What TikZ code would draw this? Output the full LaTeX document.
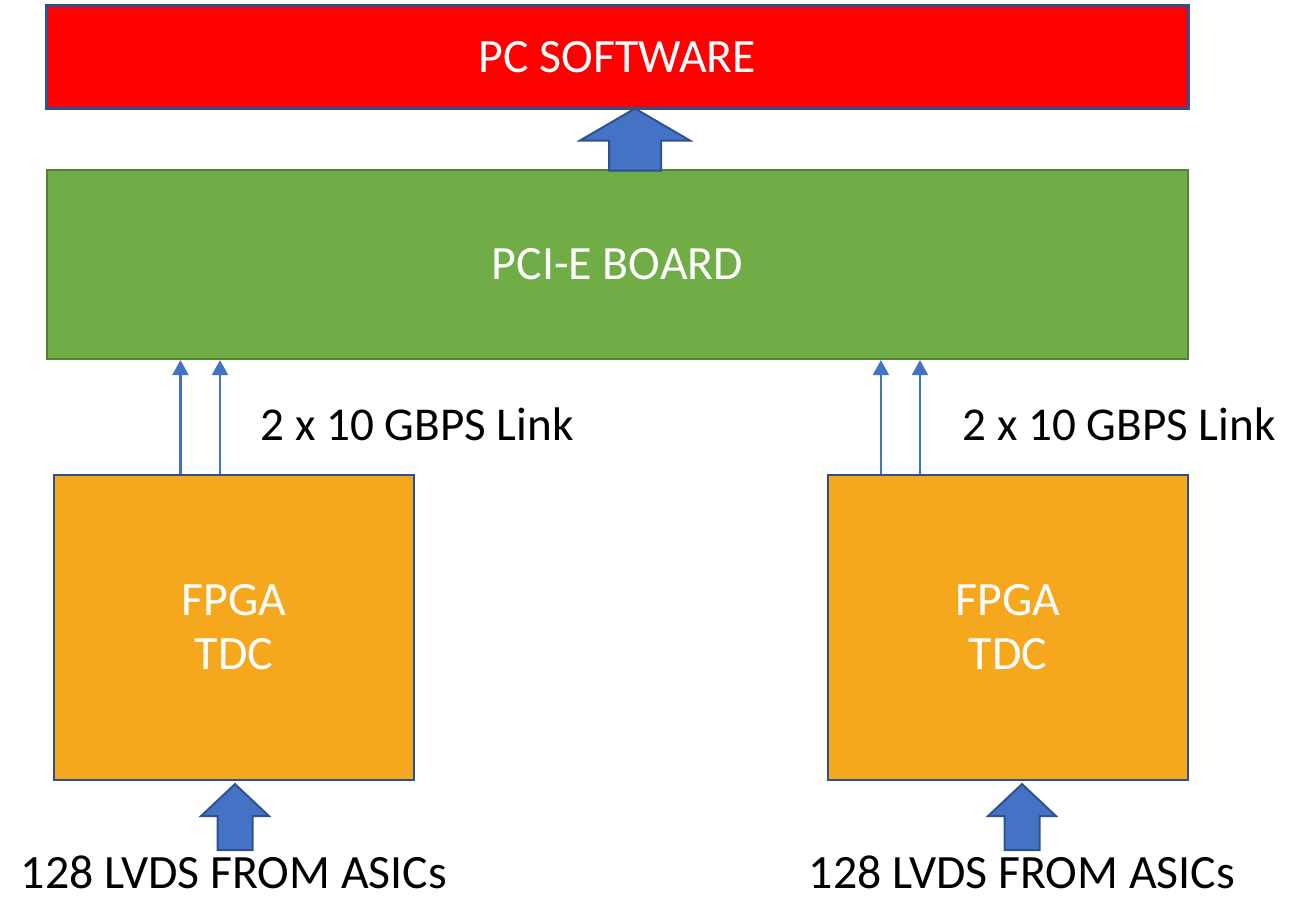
\documentclass[tikz,border=0pt]{standalone}
\usepackage{fontspec}
\setmainfont{Carlito}
\usepackage{tikz}
\usetikzlibrary{positioning,calc,arrows.meta}

\definecolor{pcred}{HTML}{FF0000}
\definecolor{boardgreen}{HTML}{70AD47}
\definecolor{boardline}{HTML}{548235}
\definecolor{fpgaorange}{HTML}{F5A81E}
\definecolor{linkblue}{HTML}{4472C4}
\definecolor{edgeblue}{HTML}{2F528F}

\begin{document}
\begin{tikzpicture}[x=0.01cm, y=-0.01cm]
        \tikzstyle{every node}=[font=\fontsize{13.6}{15.4}\selectfont, inner sep=0pt]
        \tikzstyle{box}=[draw=edgeblue, line width=0.02cm, text=white, align=center]
        \tikzstyle{fpgabox}=[box, fill=fpgaorange, minimum width=3.6cm, minimum height=3.05cm]
        \tikzstyle{linklabel}=[anchor=base west, font=\fontsize{13.4}{15.4}\selectfont]
        \tikzstyle{link}=[linkblue, line width=0.022cm, -{Triangle[width=0.16cm, length=0.15cm]}]
        \tikzstyle{bigarrow}=[draw=edgeblue, fill=linkblue, line width=0.02cm, line join=miter]

        \useasboundingbox (0,0) rectangle (1314,896);

        \node[box, fill=pcred, line width=0.03cm, minimum width=11.41cm, minimum height=1.02cm] (pc) at (617.5,57) {PC SOFTWARE};
        \node[box, fill=boardgreen, draw=boardline, minimum width=11.41cm, minimum height=1.89cm] (pcie) at (617.5,264.5) {PCI-E BOARD};

        \node[fpgabox] (fpgaL) at (234,627.5) {FPGA\\TDC};
        \node[fpgabox] (fpgaR) at (1008,627.5) {FPGA\\TDC};

        \node[linklabel] (linkL) at (260,440) {2 x 10 GBPS Link};
        \node[linklabel] (linkR) at (962,440) {2 x 10 GBPS Link};

        \node[anchor=base] (asicL) at (234,888) {128 LVDS FROM ASICs};
        \node[anchor=base] (asicR) at (1022,888) {128 LVDS FROM ASICs};

        % links up to the board
        \draw[link] ([xshift=1.275cm]fpgaL.north west) -- ([xshift=1.275cm]fpgaL.north west |- pcie.south);
        \draw[link] ([xshift=1.67cm]fpgaL.north west) -- ([xshift=1.67cm]fpgaL.north west |- pcie.south);
        \draw[link] ([xshift=0.54cm]fpgaR.north west) -- ([xshift=0.54cm]fpgaR.north west |- pcie.south);
        \draw[link] ([xshift=0.93cm]fpgaR.north west) -- ([xshift=0.93cm]fpgaR.north west |- pcie.south);

        % block arrows
        \path (pc.south) ++(17.5,-1) coordinate (uptip);
        \draw[bigarrow] (uptip) -- ++(55,32) -- ++(-29,0) -- ++(0,30) -- ++(-52,0) -- ++(0,-30) -- ++(-29,0) -- cycle;
        \path (fpgaL.south) ++(1,3) coordinate (tipL);
        \draw[bigarrow] (tipL) -- ++(34,32) -- ++(-16.5,0) -- ++(0,34) -- ++(-35,0) -- ++(0,-34) -- ++(-16.5,0) -- cycle;
        \path (fpgaR.south) ++(14,3) coordinate (tipR);
        \draw[bigarrow] (tipR) -- ++(34,32) -- ++(-16.5,0) -- ++(0,34) -- ++(-35,0) -- ++(0,-34) -- ++(-16.5,0) -- cycle;

    \end{tikzpicture}
\end{document}
